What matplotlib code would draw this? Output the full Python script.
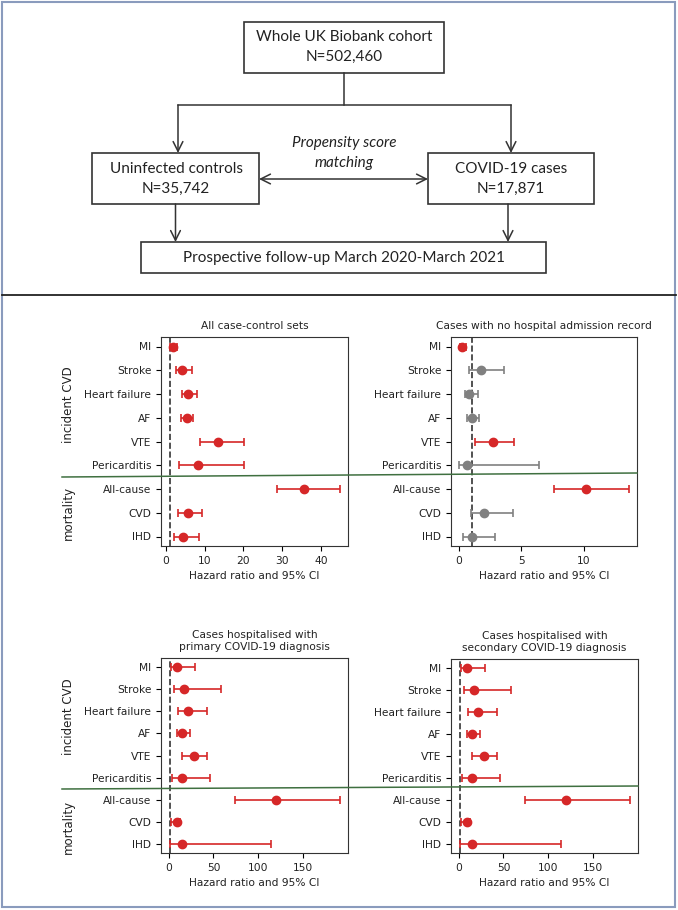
import matplotlib
matplotlib.use("Agg")
import matplotlib.pyplot as plt
import numpy as np
from matplotlib.patches import Rectangle

W, H = 678, 910

outcomes = ["MI", "Stroke", "Heart failure", "AF", "VTE", "Pericarditis",
            "All-cause", "CVD", "IHD"]

# all case-control sets
all_hr = [1.8, 4.3, 5.8, 5.4, 13.4, 8.4, 35.6, 5.7, 4.4]
all_lo = [1.1, 2.7, 4.1, 3.9, 8.8, 3.5, 28.6, 3.3, 2.1]
all_hi = [3.0, 6.9, 8.0, 7.0, 20.1, 20.1, 44.7, 9.3, 8.7]

# cases with no hospital admission record
nohosp_hr = [0.2, 1.77, 0.83, 1.05, 2.71, 0.67, 10.19, 2.04, 1.02]
nohosp_lo = [0.04, 0.83, 0.46, 0.62, 1.31, 0.03, 7.59, 0.97, 0.3]
nohosp_hi = [0.55, 3.57, 1.5, 1.6, 4.4, 6.46, 13.62, 4.32, 2.9]

# hospitalised, primary diagnosis
primary_hr = [9.8, 17.6, 22.0, 15.0, 27.8, 14.4, 119.2, 9.0, 14.4]
primary_lo = [2.8, 5.5, 11.0, 9.3, 14.5, 3.3, 73.6, 2.3, 1.5]
primary_hi = [29.3, 58.6, 43.1, 24.2, 42.4, 46.3, 190.5, 12.5, 114.2]

# hospitalised, secondary diagnosis
secondary_hr = [9.8, 17.6, 22.0, 15.0, 27.8, 14.4, 119.2, 9.0, 14.4]
secondary_lo = [2.8, 5.5, 11.0, 9.3, 14.5, 3.3, 73.6, 2.3, 1.5]
secondary_hi = [29.3, 58.6, 43.1, 24.2, 42.4, 46.3, 190.5, 12.5, 114.2]

RED = "#d62728"
GREY = "#808080"


def px_axes(fig, left, top, right, bottom):
    return fig.add_axes([left / W, 1 - bottom / H, (right - left) / W, (bottom - top) / H])


def forest(ax, hr, lo, hi, title):
    hr, lo, hi = np.array(hr), np.array(lo), np.array(hi)
    y = np.arange(len(hr))
    sig = (lo > 1) | (hi < 1)
    ax.axvline(1, ls="--", color="#333333", lw=1.2, zorder=1)
    for mask, col in [(sig, RED), (~sig, GREY)]:
        if mask.any():
            ax.errorbar(hr[mask], y[mask], xerr=[hr[mask] - lo[mask], hi[mask] - hr[mask]],
                        fmt="o", color=col, ms=6, capsize=3, elinewidth=1.2,
                        capthick=1.2, zorder=3)
    ax.set_yticks(y)
    ax.set_yticklabels(outcomes)
    ax.invert_yaxis()
    ax.set_title(title, fontsize=7.7, color="#222222")
    ax.set_xlabel("Hazard ratio and 95% CI", fontsize=7.7, color="#222222")
    ax.tick_params(labelsize=7.7, labelcolor="#222222")
    for s in ax.spines.values():
        s.set_color("#333333")


fig = plt.figure(figsize=(W / 100, H / 100), dpi=100)

ax1 = px_axes(fig, 161, 337, 348, 546)
forest(ax1, all_hr, all_lo, all_hi, "All case-control sets")
ax2 = px_axes(fig, 451, 337, 637, 546)
forest(ax2, nohosp_hr, nohosp_lo, nohosp_hi, "Cases with no hospital admission record")
ax3 = px_axes(fig, 161, 658, 348, 853)
forest(ax3, primary_hr, primary_lo, primary_hi,
       "Cases hospitalised with\nprimary COVID-19 diagnosis")
ax4 = px_axes(fig, 451, 659, 638, 853)
forest(ax4, secondary_hr, secondary_lo, secondary_hi,
       "Cases hospitalised with\nsecondary COVID-19 diagnosis")

# overlay for flowchart, frame and separators
bg = fig.add_axes([0, 0, 1, 1], zorder=10)
bg.set_xlim(0, W)
bg.set_ylim(H, 0)
bg.axis("off")
bg.patch.set_alpha(0)

bg.add_patch(Rectangle((2, 2), 673, 905, fill=False, ec="#8a9bbd", lw=1.5))
bg.plot([2, 676], [295, 295], color="#222222", lw=1.3)

box_kw = dict(fill=False, ec="#333333", lw=1.2)
bg.add_patch(Rectangle((244, 22), 200, 51, **box_kw))
bg.add_patch(Rectangle((92, 153), 167, 51, **box_kw))
bg.add_patch(Rectangle((428, 153), 166, 51, **box_kw))
bg.add_patch(Rectangle((141, 242), 405, 31, **box_kw))

line_kw = dict(color="#333333", lw=1.1)
bg.plot([344, 344], [73, 105], **line_kw)
bg.plot([178, 511], [105, 105], **line_kw)
arr = dict(arrowstyle="->, head_length=0.7, head_width=0.35", color="#333333", lw=1.1,
           shrinkA=0, shrinkB=0)
bg.annotate("", xy=(178, 153), xytext=(178, 105), arrowprops=arr)
bg.annotate("", xy=(511, 153), xytext=(511, 105), arrowprops=arr)
bg.annotate("", xy=(175.5, 242), xytext=(175.5, 204), arrowprops=arr)
bg.annotate("", xy=(508, 242), xytext=(508, 204), arrowprops=arr)
arr2 = dict(arr, arrowstyle="<->, head_length=0.7, head_width=0.35")
bg.annotate("", xy=(428, 179), xytext=(259, 179), arrowprops=arr2)

tkw = dict(ha="center", va="center", fontsize=11, family="Lato", color="#222222")
bg.text(344, 37, "Whole UK Biobank cohort", **tkw)
bg.text(344, 57, "N=502,460", **tkw)
bg.text(176, 169, "Uninfected controls", **tkw)
bg.text(176, 189, "N=35,742", **tkw)
bg.text(511, 169, "COVID-19 cases", **tkw)
bg.text(511, 189, "N=17,871", **tkw)
bg.text(344, 143, "Propensity score", style="italic", **tkw)
bg.text(344, 163, "matching", style="italic", **tkw)
bg.text(344, 258, "Prospective follow-up March 2020-March 2021", **tkw)

# group labels
gkw = dict(ha="center", va="center", rotation=90, fontsize=8.5, color="#222222")
bg.text(68, 405, "incident CVD", **gkw)
bg.text(68, 513, "mortality", **gkw)
bg.text(68, 717, "incident CVD", **gkw)
bg.text(68, 827, "mortality", **gkw)

# separators between incident CVD and mortality
bg.plot([62, 637], [477, 473], color="#3f7040", lw=1.1)
bg.plot([62, 638], [789, 786], color="#3f7040", lw=1.1)

fig.savefig("out.png", dpi=100)
